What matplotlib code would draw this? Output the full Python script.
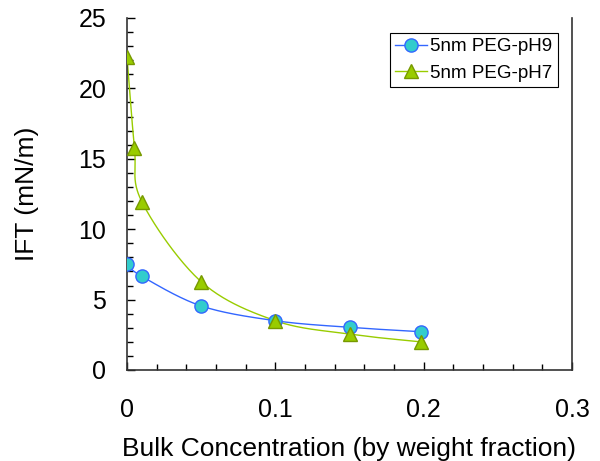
import matplotlib
matplotlib.use("Agg")
import matplotlib.pyplot as plt
import numpy as np
from matplotlib.ticker import MultipleLocator

plt.rcParams['font.family'] = ['Liberation Sans', 'DejaVu Sans']

conc_ph9 = [0.0, 0.01, 0.05, 0.1, 0.15, 0.198]
ift_ph9 = [7.5, 6.65, 4.55, 3.5, 3.03, 2.72]

conc_ph7 = [0.0, 0.005, 0.01, 0.05, 0.1, 0.15, 0.198]
ift_ph7 = [22.25, 15.8, 11.95, 6.27, 3.5, 2.55, 2.0]


def smooth(ax, xs, ys, n=40):
    # Excel-like smoothed line: Catmull-Rom done in display space
    pts = ax.transData.transform(np.column_stack([xs, ys]))
    out = []
    for i in range(len(pts) - 1):
        p0 = pts[max(i - 1, 0)]
        p1 = pts[i]
        p2 = pts[i + 1]
        p3 = pts[min(i + 2, len(pts) - 1)]
        c1 = p1 + (p2 - p0) / 6.0
        c2 = p2 - (p3 - p1) / 6.0
        t = np.linspace(0, 1, n)[:, None]
        seg = ((1 - t) ** 3) * p1 + 3 * ((1 - t) ** 2) * t * c1 + 3 * (1 - t) * t ** 2 * c2 + t ** 3 * p2
        out.append(seg)
    out = np.vstack(out)
    return ax.transData.inverted().transform(out).T


fig = plt.figure(figsize=(6, 4.61), dpi=100)
ax = fig.add_axes([0.2117, 0.1974, 0.9533 - 0.2117, 0.961 - 0.1974])
ax.set_xlim(0, 0.3)
ax.set_ylim(0, 25)

blue = '#3366ff'
green = '#99cc00'

sx, sy = smooth(ax, conc_ph9, ift_ph9)
ax.plot(sx, sy, color=blue, lw=1, zorder=2)
sx, sy = smooth(ax, conc_ph7, ift_ph7)
ax.plot(sx, sy, color=green, lw=1, zorder=2)

ax.plot(conc_ph9, ift_ph9, ls='none', marker='o', ms=9.5, mfc='#33cccc', mec=blue, mew=1, zorder=3)
ax.plot(conc_ph7, ift_ph7, ls='none', marker='^', ms=10.5, mfc=green, mec='#779900', mew=1, zorder=4)

# legend proxies
h1, = ax.plot([], [], color=blue, lw=1, marker='o', ms=9.5, mfc='#33cccc', mec=blue, label='5nm PEG-pH9')
h2, = ax.plot([], [], color=green, lw=1, marker='^', ms=10.5, mfc=green, mec='#779900', label='5nm PEG-pH7')
leg = ax.legend(handles=[h1, h2], loc='upper right', bbox_to_anchor=(0.9685, 0.957), fontsize=13.5,
                fancybox=False, edgecolor='black', framealpha=1, borderpad=0.28,
                handlelength=1.7, handletextpad=0.2, labelspacing=0.5, borderaxespad=0)
leg.get_frame().set_linewidth(0.8)

ax.spines['top'].set_visible(False)
for s in ['left', 'bottom', 'right']:
    ax.spines[s].set_linewidth(1.2)
    ax.spines[s].set_color('#333333')

ax.xaxis.set_major_locator(MultipleLocator(0.1))
ax.xaxis.set_minor_locator(MultipleLocator(0.02))
ax.yaxis.set_major_locator(MultipleLocator(5))
ax.yaxis.set_minor_locator(MultipleLocator(1))
ax.set_xticks([0, 0.1, 0.2, 0.3])
ax.set_xticklabels(['0', '0.1', '0.2', '0.3'])
ax.tick_params(which='both', direction='in', labelsize=18, top=False, right=False)
ax.tick_params(which='major', length=6, width=1)
ax.tick_params(which='minor', length=4, width=1)
ax.tick_params(axis='x', pad=20)
ax.tick_params(axis='y', pad=15)

ax.set_xlabel('Bulk Concentration (by weight fraction)', fontsize=19, labelpad=11)
ax.set_ylabel('IFT (mN/m)', fontsize=19, labelpad=28)

fig.savefig('out.png', dpi=100)
